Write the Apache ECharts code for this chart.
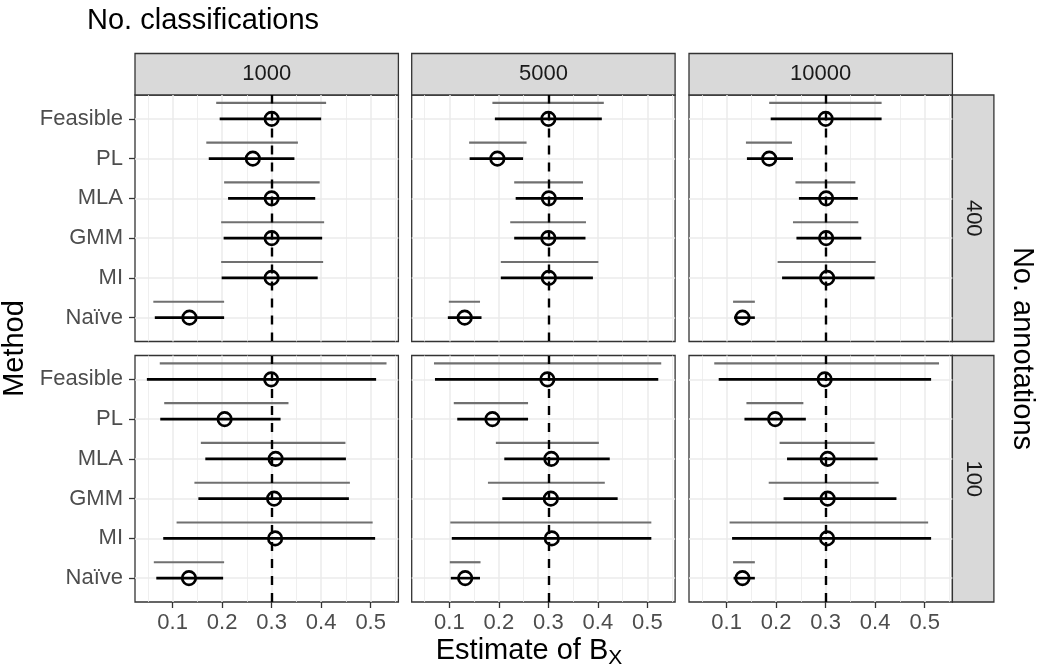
<!DOCTYPE html>
<html>
<head>
<meta charset="utf-8">
<script src="https://cdn.jsdelivr.net/npm/echarts@6/dist/echarts.min.js"></script>
<style>
html,body{margin:0;padding:0;background:#fff;}
#chart{width:1047px;height:669px;}
</style>
</head>
<body>
<div id="chart"></div>
<script>
// ---------- data ----------
const methods = ["Feasible", "PL", "MLA", "GMM", "MI", "Naïve"]; // top to bottom
const classifications = ["1000", "5000", "10000"];
const annotations = ["400", "100"];
const xTicks = [0.1, 0.2, 0.3, 0.4, 0.5];
const xTickLabels = ["0.1", "0.2", "0.3", "0.4", "0.5"];
const xMinorTicks = [0.05, 0.15, 0.25, 0.35, 0.45, 0.55];
const trueValue = 0.3;

// 1000 classifications / 400 annotations
const est_1000_400 = [0.300, 0.262, 0.300, 0.300, 0.300, 0.134];
const lo_1000_400  = [0.195, 0.173, 0.212, 0.203, 0.199, 0.064];
const hi_1000_400  = [0.400, 0.346, 0.388, 0.402, 0.393, 0.204];
const glo_1000_400 = [0.188, 0.168, 0.204, 0.198, 0.198, 0.061];
const ghi_1000_400 = [0.410, 0.353, 0.397, 0.406, 0.404, 0.204];
// 5000 / 400
const est_5000_400 = [0.300, 0.197, 0.301, 0.300, 0.301, 0.131];
const lo_5000_400  = [0.192, 0.141, 0.234, 0.231, 0.204, 0.097];
const hi_5000_400  = [0.408, 0.249, 0.370, 0.375, 0.390, 0.165];
const glo_5000_400 = [0.187, 0.140, 0.231, 0.223, 0.204, 0.099];
const ghi_5000_400 = [0.412, 0.256, 0.370, 0.376, 0.401, 0.162];
// 10000 / 400
const est_10000_400 = [0.300, 0.186, 0.301, 0.301, 0.303, 0.132];
const lo_10000_400  = [0.189, 0.141, 0.246, 0.241, 0.212, 0.115];
const hi_10000_400  = [0.413, 0.234, 0.365, 0.372, 0.399, 0.157];
const glo_10000_400 = [0.186, 0.139, 0.239, 0.234, 0.203, 0.113];
const ghi_10000_400 = [0.413, 0.232, 0.360, 0.366, 0.401, 0.157];
// 1000 / 100
const est_1000_100 = [0.299, 0.205, 0.308, 0.305, 0.307, 0.133];
const lo_1000_100  = [0.048, 0.075, 0.166, 0.152, 0.081, 0.067];
const hi_1000_100  = [0.511, 0.318, 0.450, 0.456, 0.509, 0.202];
const glo_1000_100 = [0.074, 0.083, 0.157, 0.144, 0.108, 0.062];
const ghi_1000_100 = [0.532, 0.334, 0.449, 0.458, 0.504, 0.204];
// 5000 / 100
const est_5000_100 = [0.298, 0.187, 0.306, 0.305, 0.307, 0.132];
const lo_5000_100  = [0.071, 0.116, 0.211, 0.207, 0.105, 0.103];
const hi_5000_100  = [0.522, 0.259, 0.424, 0.440, 0.508, 0.162];
const glo_5000_100 = [0.069, 0.109, 0.194, 0.178, 0.102, 0.101];
const ghi_5000_100 = [0.528, 0.259, 0.402, 0.414, 0.508, 0.163];
// 10000 / 100
const est_10000_100 = [0.298, 0.198, 0.304, 0.304, 0.303, 0.132];
const lo_10000_100  = [0.084, 0.136, 0.222, 0.215, 0.111, 0.114];
const hi_10000_100  = [0.513, 0.260, 0.405, 0.443, 0.513, 0.157];
const glo_10000_100 = [0.075, 0.140, 0.207, 0.185, 0.106, 0.113];
const ghi_10000_100 = [0.529, 0.255, 0.399, 0.407, 0.507, 0.157];

const panelData = [
  [ {est: est_1000_400, lo: lo_1000_400, hi: hi_1000_400, glo: glo_1000_400, ghi: ghi_1000_400},
    {est: est_5000_400, lo: lo_5000_400, hi: hi_5000_400, glo: glo_5000_400, ghi: ghi_5000_400},
    {est: est_10000_400, lo: lo_10000_400, hi: hi_10000_400, glo: glo_10000_400, ghi: ghi_10000_400} ],
  [ {est: est_1000_100, lo: lo_1000_100, hi: hi_1000_100, glo: glo_1000_100, ghi: ghi_1000_100},
    {est: est_5000_100, lo: lo_5000_100, hi: hi_5000_100, glo: glo_5000_100, ghi: ghi_5000_100},
    {est: est_10000_100, lo: lo_10000_100, hi: hi_10000_100, glo: glo_10000_100, ghi: ghi_10000_100} ]
];

// ---------- layout ----------
const FONT = "Liberation Sans, Arial, sans-serif";
const SMALL = 22, BIG = 29;
const colLeft = [135, 411.7, 689];
const panelW = 263.4;
const rowTop = [95, 355.5];
const panelH = 246.5;
const stripSize = 41.5;
const xMin = 0.024, xMax = 0.556;
const yMin = 0.4, yMax = 6.6;
const nM = methods.length;
const yPos = methods.map((m, i) => nM - i); // Feasible=6 ... Naïve=1
const yTickVals = yPos.slice().reverse();
const greyOffset = 0.4;

const grids = [], xAxes = [], yAxes = [], series = [];

function segRenderer(color, width, offset) {
  return function (params, api) {
    const y = api.value(2) + offset;
    const p1 = api.coord([api.value(0), y]);
    const p2 = api.coord([api.value(1), y]);
    return {
      type: 'line',
      shape: {x1: p1[0], y1: p1[1], x2: p2[0], y2: p2[1]},
      style: {stroke: color, lineWidth: width, lineCap: 'butt'}
    };
  };
}

annotations.forEach((ann, r) => {
  classifications.forEach((cls, c) => {
    const gi = grids.length;
    const bottomRow = r === annotations.length - 1;
    const leftCol = c === 0;
    grids.push({
      left: colLeft[c], top: rowTop[r], width: panelW, height: panelH,
      show: true, borderColor: '#333333', borderWidth: 1.3, backgroundColor: '#ffffff'
    });
    xAxes.push({
      type: 'value', gridIndex: gi, min: xMin, max: xMax,
      axisLine: {show: false},
      axisTick: {show: bottomRow, customValues: xTicks, length: 6, lineStyle: {color: '#333333', width: 1.3}},
      axisLabel: {show: bottomRow, customValues: xTicks, margin: 10, color: '#4D4D4D', fontSize: SMALL, fontFamily: FONT,
        formatter: (v) => xTickLabels[xTicks.findIndex(t => Math.abs(t - v) < 1e-9)]},
      splitLine: {show: true, lineStyle: {color: '#EBEBEB', width: 1.5}}
    });
    xAxes.push({
      type: 'value', gridIndex: gi, min: xMin, max: xMax,
      axisLine: {show: false},
      axisTick: {show: false, customValues: xMinorTicks},
      axisLabel: {show: false, customValues: xMinorTicks},
      splitLine: {show: true, lineStyle: {color: '#EBEBEB', width: 0.8}}
    });
    yAxes.push({
      type: 'value', gridIndex: gi, min: yMin, max: yMax,
      axisLine: {show: false},
      axisTick: {show: leftCol, customValues: yTickVals, length: 6, lineStyle: {color: '#333333', width: 1.3}},
      axisLabel: {show: leftCol, customValues: yTickVals, margin: 12, color: '#4D4D4D', fontSize: SMALL, fontFamily: FONT,
        formatter: (v) => methods[nM - Math.round(v)]},
      splitLine: {show: true, lineStyle: {color: '#EBEBEB', width: 1.5}}
    });
    const d = panelData[r][c];
    const xAxisIndex = gi * 2;
    series.push({
      type: 'custom', xAxisIndex, yAxisIndex: gi, z: 2,
      renderItem: segRenderer('#707070', 2.2, greyOffset),
      encode: {x: [0, 1], y: 2},
      data: methods.map((m, i) => [d.glo[i], d.ghi[i], yPos[i]]),
      silent: true
    });
    series.push({
      type: 'custom', xAxisIndex, yAxisIndex: gi, z: 3,
      renderItem: segRenderer('#000000', 2.6, 0),
      encode: {x: [0, 1], y: 2},
      data: methods.map((m, i) => [d.lo[i], d.hi[i], yPos[i]]),
      silent: true,
      markLine: {
        silent: true, symbol: ['none', 'none'], label: {show: false},
        lineStyle: {color: '#000000', width: 2.4, type: [9, 8]},
        data: [{xAxis: trueValue}], animation: false
      }
    });
    series.push({
      type: 'scatter', xAxisIndex, yAxisIndex: gi, z: 4,
      symbol: 'circle', symbolSize: 13.5,
      itemStyle: {color: 'rgba(0,0,0,0)', borderColor: '#000000', borderWidth: 2.7, opacity: 1},
      data: methods.map((m, i) => [d.est[i], yPos[i]]),
      silent: true
    });
  });
});

// strips and titles
const graphics = [];
classifications.forEach((cls, c) => {
  graphics.push({type: 'rect', shape: {x: colLeft[c], y: rowTop[0] - stripSize, width: panelW, height: stripSize},
    style: {fill: '#D9D9D9', stroke: '#333333', lineWidth: 1.3}, silent: true});
  graphics.push({type: 'text', x: colLeft[c] + panelW / 2, y: rowTop[0] - stripSize / 2,
    style: {text: cls, fontSize: SMALL, fontFamily: FONT, fill: '#1A1A1A', align: 'center', verticalAlign: 'middle'}, silent: true});
});
const rightX = colLeft[2] + panelW;
annotations.forEach((ann, r) => {
  graphics.push({type: 'rect', shape: {x: rightX, y: rowTop[r], width: stripSize, height: panelH},
    style: {fill: '#D9D9D9', stroke: '#333333', lineWidth: 1.3}, silent: true});
  graphics.push({type: 'text', x: rightX + stripSize / 2, y: rowTop[r] + panelH / 2, rotation: -Math.PI / 2,
    style: {text: ann, fontSize: SMALL, fontFamily: FONT, fill: '#1A1A1A', align: 'center', verticalAlign: 'middle'}, silent: true});
});
const midY = (rowTop[0] + rowTop[1] + panelH) / 2;
graphics.push({type: 'text', x: 87, y: 21,
  style: {text: 'No. classifications', fontSize: BIG, fontFamily: FONT, fill: '#000000', align: 'left', verticalAlign: 'middle'}, silent: true});
graphics.push({type: 'text', x: 15, y: midY, rotation: Math.PI / 2,
  style: {text: 'Method', fontSize: BIG, fontFamily: FONT, fill: '#000000', align: 'center', verticalAlign: 'middle'}, silent: true});
graphics.push({type: 'text', x: 1022, y: midY, rotation: -Math.PI / 2,
  style: {text: 'No. annotations', fontSize: BIG, fontFamily: FONT, fill: '#000000', align: 'center', verticalAlign: 'middle'}, silent: true});
graphics.push({type: 'text', x: 529, y: 651,
  style: {text: '{a|Estimate of B}{b|X}', align: 'center', verticalAlign: 'middle',
    rich: {a: {fontSize: BIG, fontFamily: FONT, fill: '#000000', lineHeight: 32},
           b: {fontSize: 21, fontFamily: FONT, fill: '#000000', lineHeight: 32, padding: [15, 0, 0, 0]}}}, silent: true});

const chart = echarts.init(document.getElementById('chart'), null, {renderer: 'canvas'});
chart.setOption({
  animation: false,
  backgroundColor: '#ffffff',
  grid: grids,
  xAxis: xAxes,
  yAxis: yAxes,
  series: series,
  graphic: graphics
});
</script>
</body>
</html>
